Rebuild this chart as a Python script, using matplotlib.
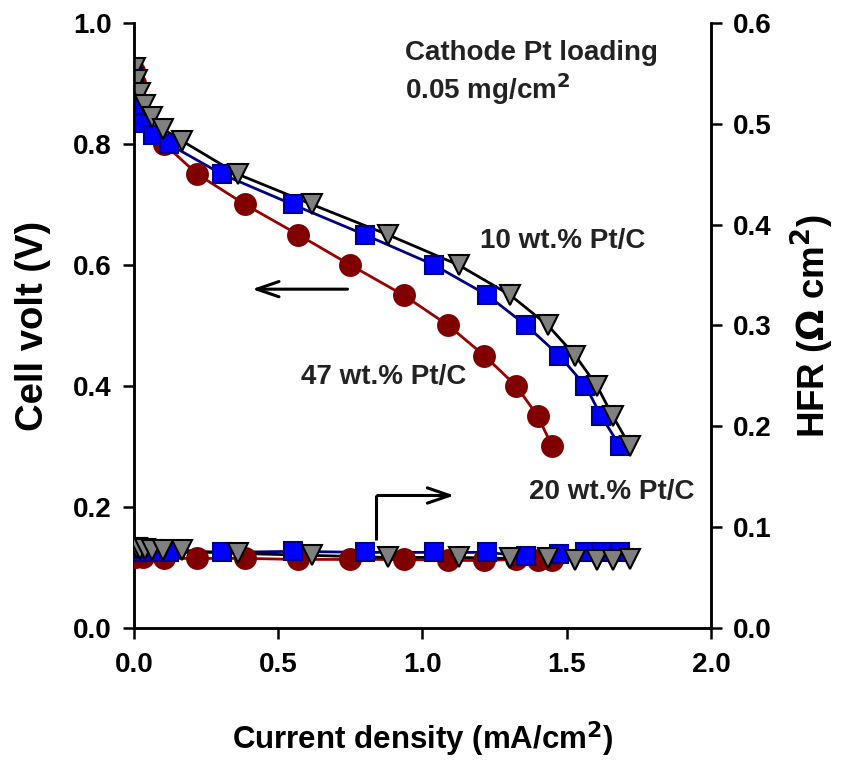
import matplotlib
matplotlib.use("Agg")
import matplotlib.pyplot as plt

plt.rcParams['font.family'] = ['Liberation Sans', 'DejaVu Sans']
plt.rcParams['font.weight'] = 'bold'
plt.rcParams['mathtext.default'] = 'bf'

# 10 wt.% Pt/C
x_10 = [0.003, 0.01, 0.02, 0.038, 0.062, 0.10, 0.167, 0.36, 0.617, 0.88, 1.125, 1.305, 1.435, 1.53, 1.605, 1.66, 1.72]
v_10 = [0.925, 0.905, 0.885, 0.865, 0.845, 0.825, 0.805, 0.75, 0.70, 0.65, 0.60, 0.55, 0.50, 0.45, 0.40, 0.35, 0.30]
hfr_10 = [0.079, 0.079, 0.078, 0.078, 0.077, 0.077, 0.077, 0.074, 0.072, 0.070, 0.070, 0.069, 0.069, 0.067, 0.067, 0.067, 0.068]

# 20 wt.% Pt/C
x_20 = [0.0, 0.005, 0.01, 0.025, 0.065, 0.12, 0.305, 0.55, 0.80, 1.04, 1.225, 1.36, 1.475, 1.565, 1.62, 1.685]
v_20 = [0.91, 0.88, 0.86, 0.835, 0.815, 0.80, 0.75, 0.70, 0.65, 0.60, 0.55, 0.50, 0.45, 0.40, 0.35, 0.30]
hfr_20 = [0.075, 0.075, 0.075, 0.075, 0.075, 0.075, 0.075, 0.076, 0.075, 0.075, 0.075, 0.071, 0.073, 0.075, 0.075, 0.075]

# 47 wt.% Pt/C
x_47 = [0.0, 0.005, 0.03, 0.105, 0.22, 0.385, 0.57, 0.75, 0.935, 1.09, 1.215, 1.325, 1.40, 1.45]
v_47 = [0.92, 0.90, 0.85, 0.80, 0.75, 0.70, 0.65, 0.60, 0.55, 0.50, 0.45, 0.40, 0.35, 0.30]
hfr_47 = [0.070, 0.070, 0.070, 0.069, 0.069, 0.069, 0.068, 0.068, 0.068, 0.067, 0.067, 0.068, 0.067, 0.067]

x_ticks = [0.0, 0.5, 1.0, 1.5, 2.0]
y_ticks = [0.0, 0.2, 0.4, 0.6, 0.8, 1.0]
y2_ticks = [0.0, 0.1, 0.2, 0.3, 0.4, 0.5, 0.6]

fig = plt.figure(figsize=(8.42, 7.64), dpi=100)
ax = fig.add_axes([0.159, 0.178, 0.8444 - 0.159, 0.970 - 0.178])
ax2 = ax.twinx()

styles = [
    (x_47, v_47, hfr_47, 'o', '#800000', '#800000', '#990000', 15),
    (x_20, v_20, hfr_20, 's', '#0000FF', '#00008B', '#000080', 13.5),
    (x_10, v_10, hfr_10, 'v', '#808080', '#000000', '#000000', 14.5),
]
for xs, vs, hs, m, fc, ec, lc, ms in styles:
    ax.plot(xs, vs, '-', color=lc, lw=2.0, zorder=2)
    ax.plot(xs, vs, m, ms=ms, mfc=fc, mec=ec, mew=1.5, ls='none', zorder=3)
    ax2.plot(xs, hs, '-', color=lc, lw=2.0, zorder=2)
    ax2.plot(xs, hs, m, ms=ms, mfc=fc, mec=ec, mew=1.5, ls='none', zorder=3)

ax.set_xlim(0, 2.0)
ax.set_ylim(0, 1.0)
ax2.set_ylim(0, 0.6)
ax.set_xticks(x_ticks)
ax.set_xticklabels([f"{t:.1f}" for t in x_ticks])
ax.set_yticks(y_ticks)
ax.set_yticklabels([f"{t:.1f}" for t in y_ticks])
ax2.set_yticks(y2_ticks)
ax2.set_yticklabels([f"{t:.1f}" for t in y2_ticks])

for a in (ax, ax2):
    a.spines['top'].set_visible(False)
    for s in a.spines.values():
        s.set_linewidth(1.8)
    a.tick_params(direction='out', length=8, width=1.8, labelsize=20, pad=8)
ax.tick_params(axis='x', pad=9)

ax.set_xlabel('Current density (mA/cm$^2$)', fontsize=22.5, fontweight='bold', labelpad=30)
ax.set_ylabel('Cell volt (V)', fontsize=27.5, fontweight='bold', labelpad=16)
ax2.set_ylabel(r'HFR ($\Omega$ cm$^2$)', fontsize=26.5, fontweight='bold', labelpad=12)

tc = '#222222'
ax.text(0.94, 0.95, 'Cathode Pt loading', fontsize=20, fontweight='bold', color=tc, va='center', ha='left')
ax.text(0.94, 0.89, '0.05 mg/cm$^2$', fontsize=20, fontweight='bold', color=tc, va='center', ha='left')
ax.text(1.20, 0.64, '10 wt.% Pt/C', fontsize=20, fontweight='bold', color=tc, va='center', ha='left')
ax.text(0.58, 0.415, '47 wt.% Pt/C', fontsize=20, fontweight='bold', color=tc, va='center', ha='left')
ax.text(1.37, 0.225, '20 wt.% Pt/C', fontsize=20, fontweight='bold', color=tc, va='center', ha='left')

# arrows
ax.annotate('', xy=(0.40, 0.56), xytext=(0.75, 0.56),
            arrowprops=dict(arrowstyle='->,head_length=1.6,head_width=0.55', lw=2.2, color='black'))
ax.plot([0.84, 0.84], [0.145, 0.219], color='black', lw=2.2, solid_capstyle='butt')
ax.annotate('', xy=(1.12, 0.219), xytext=(0.835, 0.219),
            arrowprops=dict(arrowstyle='->,head_length=1.6,head_width=0.55', lw=2.2, color='black'))

fig.savefig('out.png', dpi=100)
